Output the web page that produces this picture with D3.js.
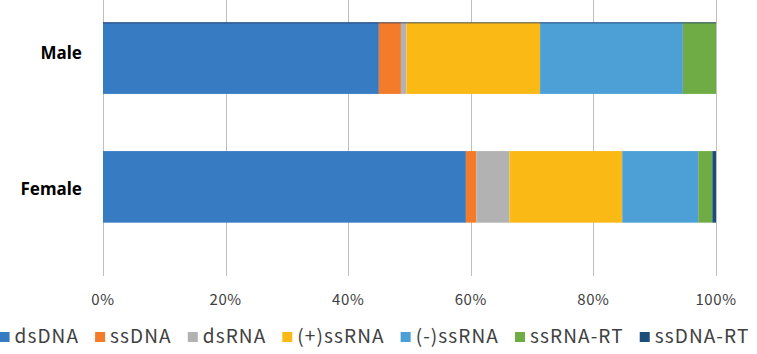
<!DOCTYPE html>
<html><head><meta charset="utf-8">
<script src="https://cdn.jsdelivr.net/npm/d3@7"></script>
<style>
body{margin:0;background:#fff;}
svg{display:block;}
</style></head>
<body><svg id="c" width="757" height="354"></svg>
<script>
const categories = ["Male", "Female"];
const seriesNames = ["dsDNA", "ssDNA", "dsRNA", "(+)ssRNA", "(-)ssRNA", "ssRNA-RT", "ssDNA-RT"];
const maleValues   = [45.0, 3.6, 0.9, 21.8, 23.3, 5.4, 0.0];
const femaleValues = [59.2, 1.7, 5.4, 18.4, 12.4, 2.3, 0.6];
const colors = ["#377BC3", "#F37B2A", "#B2B2B2", "#FBB915", "#4DA0D6", "#6FAC46", "#1D4E7A"];
const tickValues = [0, 20, 40, 60, 80, 100];

const svg = d3.select("#c");
const x = d3.scaleLinear().domain([0, 100]).range([103, 716]);
const y = d3.scaleBand().domain(categories).range([-6.25, 251.25]).paddingInner(0.444).paddingOuter(0.222);
const gridTop = 0, gridBottom = 276;
const font = "'Noto Sans CJK JP', 'Noto Sans', sans-serif";

// gridlines
svg.append("g").selectAll("line").data(tickValues).join("line")
  .attr("x1", d => Math.round(x(d)) + 0.5).attr("x2", d => Math.round(x(d)) + 0.5)
  .attr("y1", gridTop).attr("y2", gridBottom)
  .attr("stroke", "#BFBFBF").attr("stroke-width", 1);

// stacked data
const rows = categories.map((c, i) => {
  const vals = i === 0 ? maleValues : femaleValues;
  const o = {cat: c};
  seriesNames.forEach((s, j) => o[s] = vals[j]);
  return o;
});
const stack = d3.stack().keys(seriesNames)(rows);

svg.append("g").selectAll("g").data(stack).join("g")
  .attr("fill", (d, i) => colors[i])
  .selectAll("rect").data(d => d).join("rect")
  .attr("x", d => x(d[0]))
  .attr("width", d => Math.max(0, x(d[1]) - x(d[0])))
  .attr("y", d => y(d.data.cat))
  .attr("height", y.bandwidth());

// thin dark line on top of first bar
svg.append("line")
  .attr("x1", x(0)).attr("x2", x(100))
  .attr("y1", y(categories[0]) + 0.5).attr("y2", y(categories[0]) + 0.5)
  .attr("stroke", "#1F3864").attr("stroke-width", 1).attr("opacity", 0.8);

// x tick labels
svg.append("g").selectAll("text").data(tickValues).join("text")
  .attr("x", d => x(d)).attr("y", 305)
  .attr("text-anchor", "middle")
  .attr("font-family", font).attr("font-size", 15).attr("letter-spacing", 0.6)
  .attr("fill", "#404040")
  .text(d => d + "%");

// category labels
svg.append("g").selectAll("text").data(categories).join("text")
  .attr("x", 82).attr("y", (d, i) => y(d) + y.bandwidth() / 2 + (i === 0 ? -5 : 2))
  .attr("dy", "0.35em")
  .attr("text-anchor", "end")
  .attr("font-family", "'Noto Sans', sans-serif").attr("font-weight", "bold")
  .attr("font-size", 17).attr("fill", "#000")
  .text(d => d);

// legend
const lg = svg.append("g");
const items = lg.selectAll("g").data(seriesNames).join("g");
items.append("rect").attr("width", 10).attr("height", 10).attr("y", 332)
  .attr("fill", (d, i) => colors[i]);
items.append("text").attr("x", 15).attr("y", 343)
  .attr("font-family", font).attr("font-size", 19).attr("letter-spacing", 1.1)
  .attr("fill", "#404040")
  .text(d => d);
let widths = [];
items.each(function() { widths.push(this.querySelector("text").getComputedTextLength()); });
const gap = 16;
const total = widths.reduce((a, w) => a + 15 + w, 0) + gap * (widths.length - 1);
let cx = 374.5 - total / 2;
items.attr("transform", (d, i) => { const t = `translate(${cx},0)`; cx += 15 + widths[i] + gap; return t; });
</script>
</body></html>
